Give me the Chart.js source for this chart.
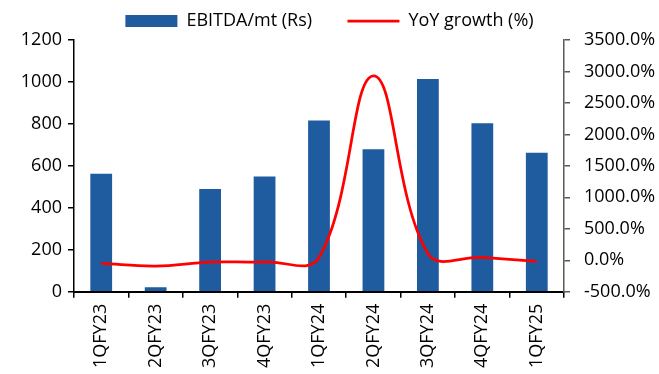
<!DOCTYPE html>
<html>
<head>
<meta charset="utf-8">
<script src="https://cdn.jsdelivr.net/npm/chart.js@4.4.1/dist/chart.umd.min.js"></script>
<style>
  html, body { margin: 0; padding: 0; background: #fff; }
  #wrap { width: 659px; height: 374px; position: relative; }
</style>
</head>
<body>
<div id="wrap"><canvas id="ebitdaChart"></canvas></div>
<script>
// quarters and values
const quarters = ['1QFY23', '2QFY23', '3QFY23', '4QFY23', '1QFY24', '2QFY24', '3QFY24', '4QFY24', '1QFY25'];
const ebitdaPerTonne = [562, 22, 490, 549, 816, 679, 1014, 803, 663];
const yoyGrowth = [-50, -92, -29, -24, 45, 2930, 107, 46, -19];

const leftTicks = [0, 200, 400, 600, 800, 1000, 1200];
const rightTicks = [-500, 0, 500, 1000, 1500, 2000, 2500, 3000, 3500];

const FONT = { family: "'Open Sans', sans-serif", size: 18 };

const ctx = document.getElementById('ebitdaChart').getContext('2d');

const ebitdaChart = new Chart(ctx, {
    type: 'bar',
    data: {
        labels: quarters,
        datasets: [{
            type: 'bar',
            label: 'EBITDA/mt (Rs)',
            data: ebitdaPerTonne,
            backgroundColor: '#1F5B9F',
            borderWidth: 0,
            barPercentage: 0.4,
            categoryPercentage: 1,
            pointStyle: 'rect',
            yAxisID: 'y',
            order: 2
        }, {
            type: 'line',
            label: 'YoY growth (%)',
            data: yoyGrowth,
            borderColor: '#FF0000',
            backgroundColor: '#FF0000',
            borderWidth: 2.75,
            pointRadius: 0,
            pointStyle: 'line',
            tension: 0.4,
            fill: false,
            yAxisID: 'y1',
            order: 1
        }]
    },
    options: {
        responsive: true,
        maintainAspectRatio: false,
        animation: false,
        layout: { padding: { top: 0, bottom: 0, left: 0, right: 0 } },
        plugins: {
            tooltip: { enabled: false },
            legend: {
                display: true,
                position: 'top',
                labels: {
                    usePointStyle: true,
                    pointStyleWidth: 52,
                    boxHeight: 12,
                    padding: 12,
                    color: '#000',
                    font: FONT,
                    sort: (a, b) => a.datasetIndex - b.datasetIndex,
                    generateLabels: (chart) => {
                        const items = Chart.defaults.plugins.legend.labels.generateLabels(chart);
                        // widen the gap after the first entry
                        items.forEach(it => { if (it.datasetIndex === 0) it.text += '     '; });
                        return items;
                    }
                }
            }
        },
        scales: {
            x: {
                offset: true,
                grid: {
                    display: true,
                    offset: true,
                    drawOnChartArea: false,
                    tickLength: 6,
                    color: '#000',
                    lineWidth: 1.5
                },
                border: { display: true, color: '#000', width: 2 },
                ticks: {
                    color: '#000',
                    font: FONT,
                    minRotation: 90,
                    maxRotation: 90,
                    padding: 6
                }
            },
            y: {
                position: 'left',
                min: 0,
                max: 1200,
                afterBuildTicks: (scale) => { scale.ticks = leftTicks.map(v => ({ value: v })); },
                afterFit: (scale) => { scale.width = 74; },
                grid: {
                    display: true,
                    drawOnChartArea: false,
                    tickLength: 6,
                    color: '#000',
                    lineWidth: 1.5
                },
                border: { display: true, color: '#000', width: 1.5 },
                ticks: { color: '#000', font: FONT, padding: 6, callback: (v) => String(v) }
            },
            y1: {
                position: 'right',
                min: -500,
                max: 3500,
                afterBuildTicks: (scale) => { scale.ticks = rightTicks.map(v => ({ value: v })); },
                afterFit: (scale) => { scale.width = 95; },
                grid: {
                    display: true,
                    drawOnChartArea: false,
                    tickLength: 6,
                    color: '#595959',
                    lineWidth: 1.5
                },
                border: { display: true, color: '#595959', width: 1.5 },
                ticks: {
                    color: '#000',
                    font: FONT,
                    padding: 14,
                    crossAlign: 'near',
                    callback: (v) => v.toFixed(1) + '%'
                }
            }
        }
    }
});
</script>
</body>
</html>
